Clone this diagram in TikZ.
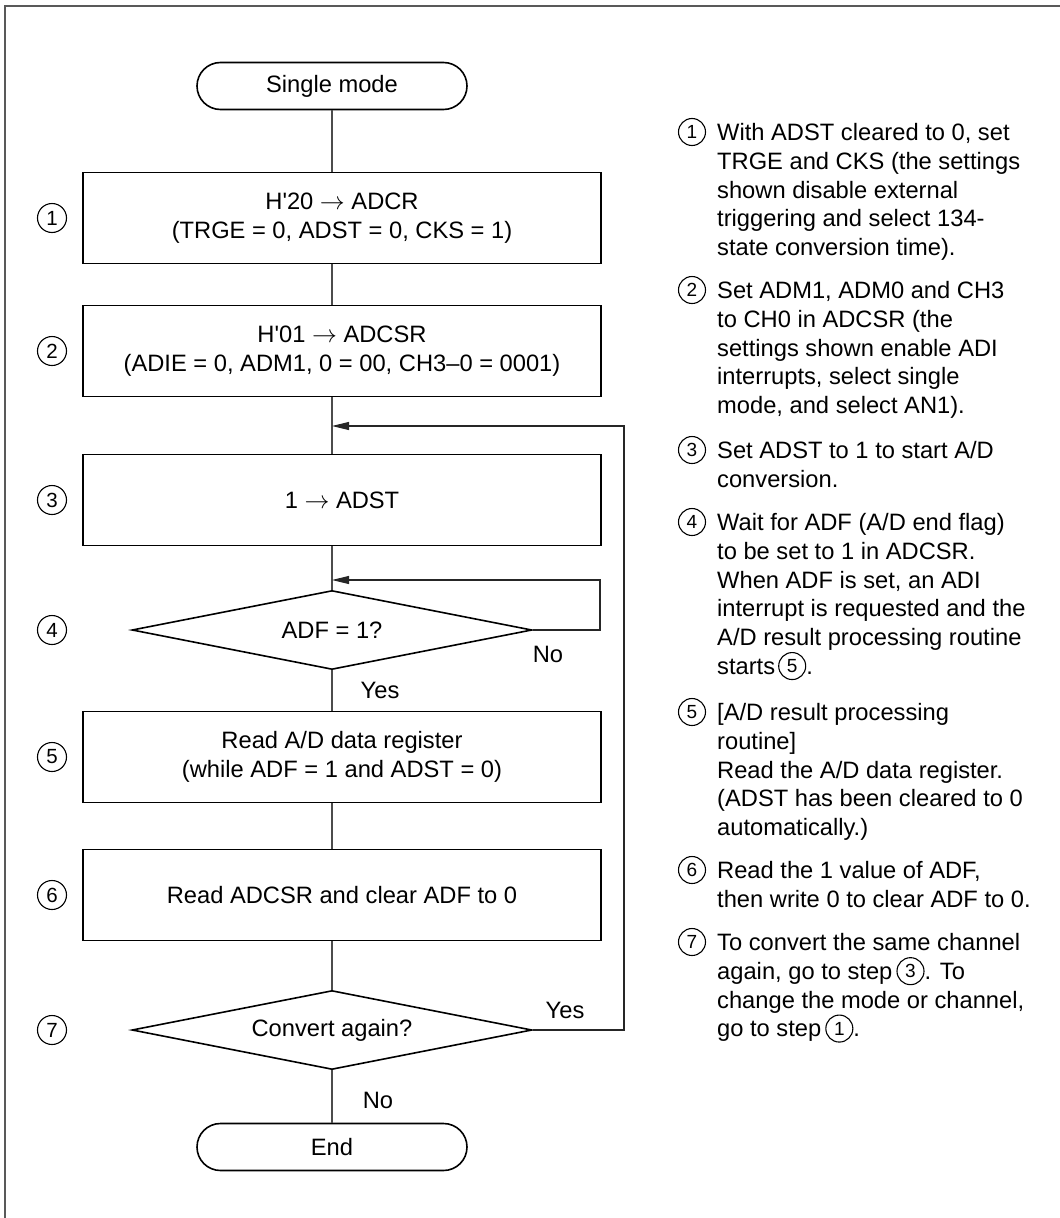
\documentclass[tikz,border=0pt]{standalone}
\usepackage{fontspec}
\setmainfont{Liberation Sans}
\usetikzlibrary{shapes.geometric,shapes.misc,arrows.meta}
\newcommand\ff{\fontsize{23.7}{28.7}\selectfont}
\newcommand\cnum[1]{\tikz[baseline={([yshift=-1.7pt]cn.base)}]\node[draw,circle,line width=1.1pt,inner sep=0pt,minimum size=27pt,font=\fontsize{19}{19}\selectfont](cn){#1};}
\tikzset{
 proc/.style={draw=black,line width=1.6pt,minimum width=518pt,minimum height=91pt,inner sep=0pt,align=center,font=\ff},
 term/.style={draw=black,line width=1.6pt,rounded rectangle,minimum width=270pt,minimum height=47pt,inner sep=0pt,font=\ff},
 dec/.style={draw=black,line width=1.6pt,diamond,aspect=5,minimum width=400pt,minimum height=79pt,inner sep=0pt,font=\ff},
 flow/.style={draw=black!70,line width=1.2pt},
 backarrow/.style={draw=black!85,line width=1.1pt,-{Triangle[length=17pt,width=8pt]}},
 num/.style={draw,circle,line width=1.1pt,minimum size=29pt,inner sep=0pt,font=\fontsize{20.5}{20.5}\selectfont},
 rnum/.style={draw,circle,line width=1.1pt,minimum size=27pt,inner sep=0pt,font=\fontsize{19}{19}\selectfont},
 note/.style={anchor=north west,inner sep=0pt,align=left,font=\ff},
 lbl/.style={font=\ff,inner sep=0pt}
}
\begin{document}
\begin{tikzpicture}[x=1pt,y=-1pt]
\useasboundingbox (0,0) rectangle (1060,1218);
% frame
\draw[line width=2pt,draw=black!65] (5,1218) -- (5,6) -- (1060,6);
% axis
\coordinate (ax) at (332,0);
\coordinate (r4) at (600,0);
\coordinate (r7) at (624,0);
% shapes
\node[term] (start) at (332,86) {Single mode};
\node[proc] (b1) at (342,218) {H\textquotesingle 20 $\rightarrow$ ADCR\\(TRGE = 0, ADST = 0, CKS = 1)};
\node[proc] (b2) at (342,351) {H\textquotesingle 01 $\rightarrow$ ADCSR\\(ADIE = 0, ADM1, 0 = 00, CH3–0 = 0001)};
\node[proc] (b3) at (342,500) {1 $\rightarrow$ ADST};
\node[dec] (d4) at (332,630) {ADF = 1?};
\node[proc] (b5) at (342,757) {Read A/D data register\\(while ADF = 1 and ADST = 0)};
\node[proc] (b6) at (342,895) {Read ADCSR and clear ADF to 0};
\node[dec] (d7) at (332,1030) {Convert again?};
\node[term] (stop) at (332,1147) {End};
\coordinate (j3) at (332,426);
\coordinate (j4) at (332,580);
% connectors
\draw[flow] (start.south) -- (b1.north -| ax);
\draw[flow] (b1.south -| ax) -- (b2.north -| ax);
\draw[flow] (b2.south -| ax) -- (b3.north -| ax);
\draw[flow] (b3.south -| ax) -- (d4.north);
\draw[flow] (d4.south) -- (b5.north -| ax);
\draw[flow] (b5.south -| ax) -- (b6.north -| ax);
\draw[flow] (b6.south -| ax) -- (d7.north);
\draw[flow] (d7.south) -- (stop.north);
\draw[backarrow] (d4.east) -- (d4.east -| r4) |- (j4);
\draw[backarrow] (d7.east) -- (d7.east -| r7) |- (j3);
% labels
\node[lbl] (no4) at (548,654) {No};
\node[lbl] (yes4) at (380,690) {Yes};
\node[lbl] (yes7) at (565,1010) {Yes};
\node[lbl] (no7) at (378,1100) {No};
% left step numbers
\node[num] (n1) at (52,218) {1};
\node[num] (n2) at (52,351) {2};
\node[num] (n3) at (52,500) {3};
\node[num] (n4) at (52,630) {4};
\node[num] (n5) at (52,757) {5};
\node[num] (n6) at (52,895) {6};
\node[num] (n7) at (52,1030) {7};
% right notes
\node[rnum] (m1) at (692,132) {1};
\node[note] (t1) at (717,122.5) {\rule{0pt}{18pt}With ADST cleared to 0, set\\TRGE and CKS (the settings\\shown disable external\\triggering and select 134-\\state conversion time).};
\node[rnum] (m2) at (692,290) {2};
\node[note] (t2) at (717,280.5) {\rule{0pt}{18pt}Set ADM1, ADM0 and CH3\\to CH0 in ADCSR (the\\settings shown enable ADI\\interrupts, select single\\mode, and select AN1).};
\node[rnum] (m3) at (692,450) {3};
\node[note] (t3) at (717,440.5) {\rule{0pt}{18pt}Set ADST to 1 to start A/D\\conversion.};
\node[rnum] (m4) at (692,522) {4};
\node[note] (t4) at (717,512.5) {\rule{0pt}{18pt}Wait for ADF (A/D end flag)\\to be set to 1 in ADCSR.\\When ADF is set, an ADI\\interrupt is requested and the\\A/D result processing routine\\starts\hspace{3pt}\cnum{5}.};
\node[rnum] (m5) at (692,712) {5};
\node[note] (t5) at (717,702.5) {\rule{0pt}{18pt}[A/D result processing\\routine]\\Read the A/D data register.\\(ADST has been cleared to 0\\automatically.)};
\node[rnum] (m6) at (692,870) {6};
\node[note] (t6) at (717,860.5) {\rule{0pt}{18pt}Read the 1 value of ADF,\\then write 0 to clear ADF to 0.};
\node[rnum] (m7) at (692,942) {7};
\node[note] (t7) at (717,932.5) {\rule{0pt}{18pt}To convert the same channel\\again, go to step\hspace{4pt}\cnum{3}. To\\change the mode or channel,\\go to step\hspace{4pt}\cnum{1}.};
\end{tikzpicture}
\end{document}
